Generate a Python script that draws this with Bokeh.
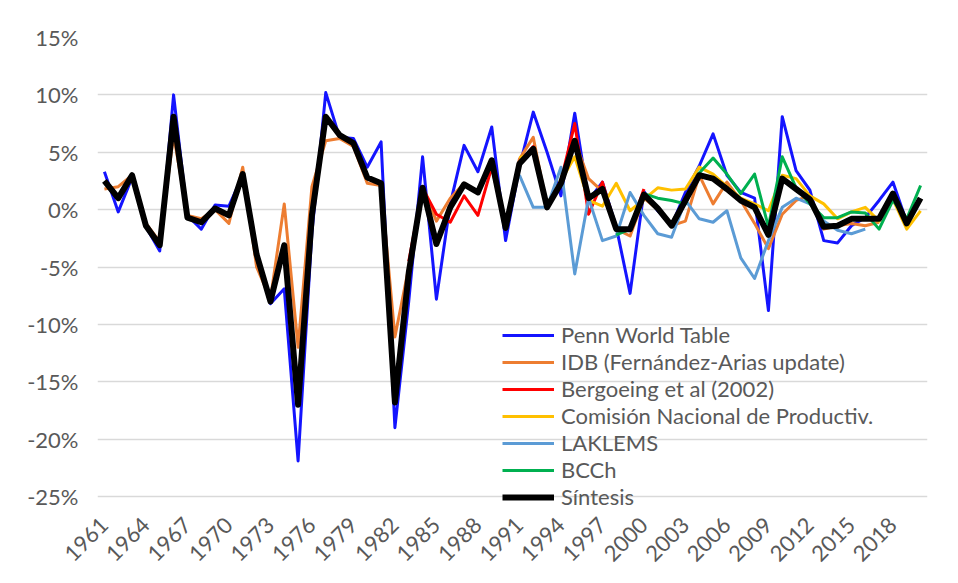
import numpy as np
from bokeh.plotting import figure
from bokeh.models import FixedTicker, Legend, LegendItem, ColumnDataSource, Range1d
from bokeh.embed import file_html
from bokeh.resources import INLINE

N = None
years = list(range(1961, 2021))

tick_years = list(range(1961, 2019, 3))
y_ticks = [-25, -20, -15, -10, -5, 0, 5, 10, 15]
y_tick_labels = ["-25%", "-20%", "-15%", "-10%", "-5%", "0%", "5%", "10%", "15%"]

penn = [3.3, -0.2, 2.8, -1.5, -3.6, 10.0, -0.5, -1.7, 0.4, 0.3,
        3.0, -3.7, -8.2, -6.9, -21.9, -2.0, 10.2, 6.3, 6.2, 3.7,
        5.9, -19.0, -8.0, 4.6, -7.8, 0.5, 5.6, 3.3, 7.2, -2.7,
        3.7, 8.5, 5.0, 1.2, 8.4, 0.8, 2.4, -1.5, -7.3, 1.6,
        -0.1, -1.4, 1.5, 3.8, 6.6, 3.0, 1.5, 1.0, -8.8, 8.1,
        3.4, 1.7, -2.7, -2.9, -1.4, -0.7, 0.8, 2.4, -1.1, N]

idb = [1.8, 2.0, 3.0, -1.2, -2.8, 6.5, -0.5, -0.8, 0.0, -1.2,
       3.7, -5.0, -7.8, 0.5, -12.0, 2.0, 6.0, 6.2, 5.5, 2.3,
       2.1, -11.1, -5.0, 2.0, -1.0, 1.0, 2.3, 1.6, 4.0, -1.6,
       4.4, 6.3, 0.2, 2.5, 6.0, 2.7, 1.6, -1.7, -2.3, 1.0,
       0.0, -1.4, -1.0, 3.0, 0.5, 2.4, 0.8, -1.2, -3.4, -0.4,
       0.8, 1.2, -1.7, -1.4, -1.2, -1.4, -1.1, N, N, N]

bergoeing = [N] * 22 + [-4.5, 1.9, -0.4, -1.1, 1.2, -0.5, 3.7, -1.5,
                        4.0, 5.5, 0.1, 2.5, 7.5, -0.4, 2.4, -1.7, -1.7, 1.8] + [N] * 20

cnp = [N] * 30 + [4.5, 5.0, 0.5, 2.5, 4.6, 0.8, 0.3, 2.3, -0.1, 0.9,
                  1.9, 1.7, 1.8, 3.7, 3.1, 2.0, 1.0, 0.5, -0.1, 3.0,
                  2.7, 1.2, 0.5, -0.8, -0.2, 0.2, -1.0, 0.9, -1.7, -0.1]

laklems = [N] * 30 + [3.0, 0.2, 0.2, 3.7, -5.6, 1.0, -2.7, -2.3, 1.5, -0.5,
                      -2.1, -2.4, 0.8, -0.8, -1.1, -0.1, -4.2, -6.0, -2.7, 0.2,
                      1.0, 0.5, -1.0, -1.8, -2.1, -1.7] + [N] * 4

bcch = [N] * 37 + [-2.2, -1.7, 1.4, 1.0, 0.8, 0.5, 3.2, 4.5, 3.1, 1.4,
                   3.1, -1.5, 4.6, 1.9, 0.5, -0.7, -0.7, -0.2, -0.3, -1.7,
                   0.8, -0.8, 2.1]

sintesis = [2.5, 1.0, 3.0, -1.4, -3.1, 8.1, -0.7, -1.1, 0.1, -0.5,
            3.1, -3.9, -8.0, -3.1, -17.0, -0.5, 8.1, 6.5, 5.8, 2.8,
            2.3, -16.8, -5.5, 1.9, -3.0, 0.2, 2.2, 1.5, 4.3, -1.6,
            4.0, 5.3, 0.2, 2.3, 6.0, 1.0, 1.8, -1.7, -1.7, 1.3,
            0.1, -1.4, 0.8, 3.0, 2.7, 1.8, 0.8, 0.2, -2.2, 2.7,
            1.8, 0.9, -1.5, -1.4, -0.8, -0.8, -0.8, 1.4, -1.2, 1.0]

series = [
    ("Penn World Table", penn, "#1414ff", 3),
    ("IDB (Fernández-Arias update)", idb, "#ed7d31", 3),
    ("Bergoeing et al (2002)", bergoeing, "#ff0000", 3),
    ("Comisión Nacional de Productiv.", cnp, "#ffc000", 3),
    ("LAKLEMS", laklems, "#5b9bd5", 3),
    ("BCCh", bcch, "#00b050", 3),
    ("Síntesis", sintesis, "#000000", 6),
]

FONT = "Lato"
TXT = "#595959"

p = figure(width=950, height=575, x_range=Range1d(1960.5, 2020.5), y_range=Range1d(-26.48, 15),
           output_backend="svg", toolbar_location=None,
           min_border_left=97, min_border_right=23, min_border_top=37, min_border_bottom=62)
p.outline_line_color = None
p.background_fill_color = "white"
p.border_fill_color = "white"

p.xgrid.visible = False
p.ygrid.ticker = FixedTicker(ticks=y_ticks)
p.ygrid.grid_line_color = "#d9d9d9"
p.ygrid.grid_line_width = 1.5

p.yaxis.ticker = FixedTicker(ticks=y_ticks)
p.yaxis.major_label_overrides = {v: l for v, l in zip(y_ticks, y_tick_labels)}
p.xaxis.ticker = FixedTicker(ticks=tick_years)
p.xaxis.major_label_overrides = {y: str(y) for y in tick_years}
p.xaxis.major_label_orientation = np.pi / 4
for ax in (p.xaxis, p.yaxis):
    ax.axis_line_color = None
    ax.major_tick_line_color = None
    ax.minor_tick_line_color = None
    ax.major_tick_out = 0
    ax.major_tick_in = 0
    ax.minor_tick_out = 0
    ax.major_label_text_font = FONT
    ax.major_label_text_font_size = "22px"
    ax.major_label_text_color = TXT
p.yaxis.major_label_standoff = 19
p.xaxis.major_label_standoff = 8

items = []
for name, vals, color, w in series:
    arr = np.array([np.nan if v is None else v for v in vals], dtype=float)
    src = ColumnDataSource(dict(x=years, y=arr))
    r = p.line("x", "y", source=src, line_color=color, line_width=w, line_join="round")
    items.append(LegendItem(label=name, renderers=[r]))

legend = Legend(items=items, location=(405, 3))
legend.label_text_font = FONT
legend.label_text_font_size = "22px"
legend.label_text_color = TXT
legend.glyph_width = 52
legend.glyph_height = 22
legend.label_height = 22
legend.spacing = 0
legend.padding = 0
legend.margin = 0
legend.label_standoff = 7
legend.border_line_color = None
legend.background_fill_alpha = 0
p.add_layout(legend)

open("out.html", "w").write(file_html(p, INLINE))
